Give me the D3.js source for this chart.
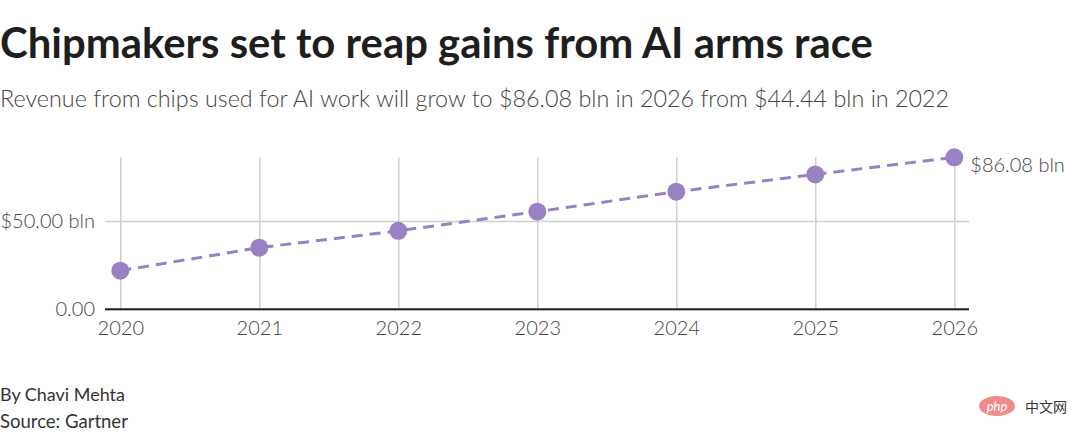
<!DOCTYPE html>
<html>
<head>
<meta charset="utf-8">
<script src="https://cdn.jsdelivr.net/npm/d3@7"></script>
<style>
  body { margin: 0; background: #fff; }
  svg { display: block; font-family: Lato, "Noto Sans", sans-serif; }
</style>
</head>
<body>
<div id="container"></div>
<script>
/* DATA */
const years = [2020, 2021, 2022, 2023, 2024, 2025, 2026];
const revenue = [21.9, 34.9, 44.44, 55.3, 66.6, 76.4, 86.08];
const yTicks = [0, 50];
const yTickLabels = ["0.00", "$50.00 bln"];

/* CONSTANTS */
const width = 1080, height = 439;
const plot = { left: 105, right: 969, top: 157.3, bottom: 309.3 };
const purple = "#9882c4";
const labelSize = 20;

const svg = d3.select("#container").append("svg")
  .attr("width", width)
  .attr("height", height);

// fit a text to a target width by scaling its font size
function fitWidth(sel, target) {
  const w = sel.node().getComputedTextLength();
  const fs = parseFloat(sel.attr("font-size"));
  sel.attr("font-size", fs * target / w);
}

/* TITLES */
const title = svg.append("text")
  .attr("x", 0).attr("y", 58)
  .attr("font-size", 36).attr("font-weight", 700)
  .attr("fill", "#1e1e1e")
  .text("Chipmakers set to reap gains from AI arms race");
fitWidth(title, 873);

const sub = svg.append("text")
  .attr("x", 0).attr("y", 107)
  .attr("font-size", 22).attr("font-weight", 300)
  .attr("fill", "#444")
  .text("Revenue from chips used for AI work will grow to $86.08 bln in 2026 from $44.44 bln in 2022");
fitWidth(sub, 950);

/* SCALES */
const x = d3.scaleLinear()
  .domain(d3.extent(years))
  .range([120.3, 954.3]);

const y = d3.scaleLinear()
  .domain([0, d3.max(revenue)])
  .range([plot.bottom, plot.top]);

/* AXES */
const yAxis = d3.axisLeft(y)
  .tickValues(yTicks)
  .tickSize(-(plot.right - plot.left))
  .tickPadding(10)
  .tickFormat((d, i) => yTickLabels[i]);

const gy = svg.append("g")
  .attr("transform", `translate(${plot.left},0)`)
  .call(yAxis);
gy.select(".domain").remove();
gy.selectAll("line").attr("stroke", "#cfcfcf").attr("stroke-width", 1.5);
gy.selectAll("text")
  .attr("font-size", labelSize).attr("font-weight", 300)
  .attr("fill", "#444").attr("font-family", "Lato, sans-serif");

const xAxis = d3.axisBottom(x)
  .tickValues(years)
  .tickFormat(d3.format("d"))
  .tickSize(-(plot.bottom - plot.top))
  .tickPadding(12);

const gx = svg.append("g")
  .attr("transform", `translate(0,${plot.bottom})`)
  .call(xAxis);
gx.select(".domain").remove();
gx.selectAll("line").attr("stroke", "#cfcfcf").attr("stroke-width", 1.5);
gx.selectAll("text")
  .attr("font-size", labelSize).attr("font-weight", 300)
  .attr("fill", "#444").attr("font-family", "Lato, sans-serif");

// baseline
svg.append("line")
  .attr("x1", plot.left).attr("x2", plot.right)
  .attr("y1", y(0)).attr("y2", y(0))
  .attr("stroke", "#222").attr("stroke-width", 2);

/* LINE + POINTS */
const data = years.map((yr, i) => ({ year: yr, value: revenue[i] }));

const line = d3.line()
  .x(d => x(d.year))
  .y(d => y(d.value));

svg.append("path")
  .datum(data)
  .attr("d", line)
  .attr("fill", "none")
  .attr("stroke", purple)
  .attr("stroke-width", 3)
  .attr("stroke-dasharray", "11,7");

svg.selectAll("circle.pt")
  .data(data)
  .join("circle")
  .attr("class", "pt")
  .attr("cx", d => x(d.year))
  .attr("cy", d => y(d.value))
  .attr("r", 9)
  .attr("fill", purple);

// end label
const last = data[data.length - 1];
svg.append("text")
  .attr("x", x(last.year) + 16)
  .attr("y", y(last.value) + 15)
  .attr("font-size", labelSize).attr("font-weight", 300)
  .attr("fill", "#444")
  .text("$" + d3.format(".2f")(last.value) + " bln");

/* FOOTER */
const by = svg.append("text")
  .attr("x", 0).attr("y", 401)
  .attr("font-size", 16).attr("fill", "#333")
  .text("By Chavi Mehta");
fitWidth(by, 125);
const src = svg.append("text")
  .attr("x", 0).attr("y", 428)
  .attr("font-size", 16).attr("fill", "#333")
  .text("Source: Gartner");
fitWidth(src, 128);

// watermark
const wm = svg.append("g").attr("transform", "translate(997,406)");
wm.append("ellipse").attr("rx", 18).attr("ry", 10).attr("fill", "#f08a8a");
wm.append("text")
  .attr("y", 4.5).attr("text-anchor", "middle")
  .attr("font-size", 13).attr("font-style", "italic")
  .attr("fill", "#fff").text("php");
wm.append("text")
  .attr("x", 28).attr("y", 5.5)
  .attr("font-size", 14).attr("fill", "#333")
  .attr("font-family", "'Noto Sans CJK SC', sans-serif")
  .text("中文网");
</script>
</body>
</html>
